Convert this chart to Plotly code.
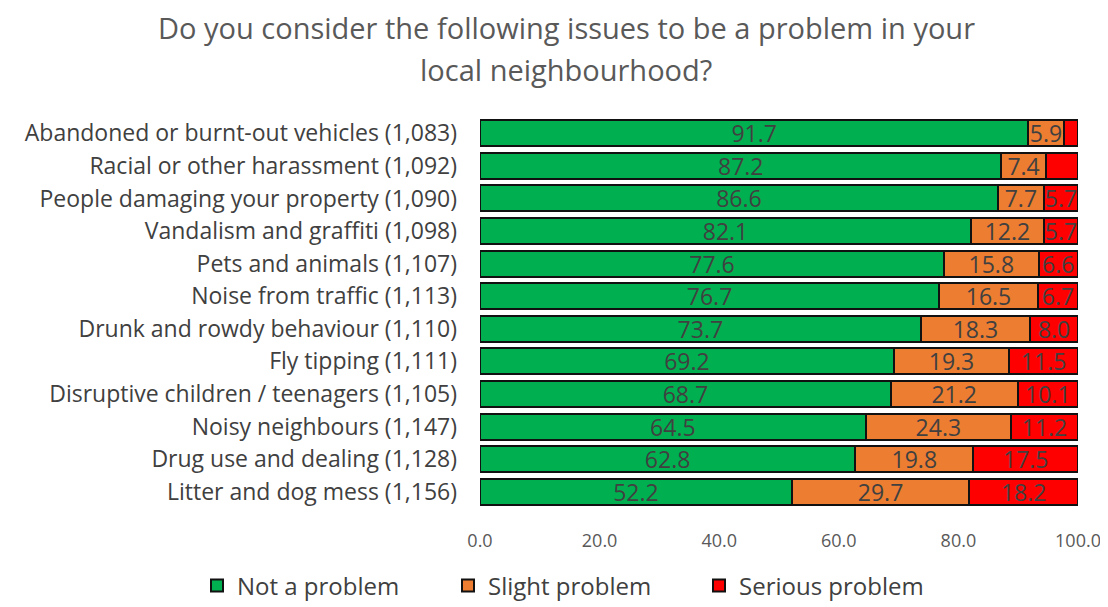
import plotly.graph_objects as go

categories = [
    "Abandoned or burnt-out vehicles (1,083)",
    "Racial or other harassment (1,092)",
    "People damaging your property (1,090)",
    "Vandalism and graffiti (1,098)",
    "Pets and animals (1,107)",
    "Noise from traffic (1,113)",
    "Drunk and rowdy behaviour (1,110)",
    "Fly tipping (1,111)",
    "Disruptive children / teenagers (1,105)",
    "Noisy neighbours (1,147)",
    "Drug use and dealing (1,128)",
    "Litter and dog mess (1,156)",
]
not_a_problem = [91.7, 87.2, 86.6, 82.1, 77.6, 76.7, 73.7, 69.2, 68.7, 64.5, 62.8, 52.2]
slight_problem = [5.9, 7.4, 7.7, 12.2, 15.8, 16.5, 18.3, 19.3, 21.2, 24.3, 19.8, 29.7]
serious_problem = [2.4, 5.4, 5.7, 5.7, 6.6, 6.7, 8.0, 11.5, 10.1, 11.2, 17.5, 18.2]
# labels hidden in the original for the smallest segments
serious_labels = ["", "", "5.7", "5.7", "6.6", "6.7", "8.0", "11.5", "10.1", "11.2", "17.5", "18.2"]
tick_vals = [0, 20, 40, 60, 80, 100]
tick_text = ["0.0", "20.0", "40.0", "60.0", "80.0", "100.0"]
title_lines = ["Do you consider the following issues to be a problem in your",
               "local neighbourhood?"]

series = [
    ("Not a problem", not_a_problem, [f"{v:.1f}" for v in not_a_problem], "#00B050"),
    ("Slight problem", slight_problem, [f"{v:.1f}" for v in slight_problem], "#ED7D31"),
    ("Serious problem", serious_problem, serious_labels, "#FF0000"),
]

FONT = "Open Sans, Lato, sans-serif"

fig = go.Figure()
for name, vals, labels, color in series:
    fig.add_trace(go.Bar(
        y=categories, x=vals, name=name, orientation="h",
        text=labels, textposition="inside", insidetextanchor="middle",
        constraintext="none",
        textfont=dict(size=23, color="#404040", family=FONT),
        marker=dict(color=color, line=dict(color="#111111", width=2)),
    ))

# page has an 8px body margin: target page coords -> figure coords by subtracting 8
OFF = 8
W, H = 1108, 607
# plot area in page coords: x 480..1078, y 117..508
L, T = 480 - OFF, 117 - OFF
R = W - (1078 - OFF)
B = H - (508 - OFF)
pw, ph = W - L - R, H - T - B

def px_to_paper_x(px):
    return (px - OFF - L) / pw

def px_to_paper_y(py):
    return (H - B - (py - OFF)) / ph

annotations = []
for line, ypx in zip(title_lines, [28, 69]):
    annotations.append(dict(
        text=line, xref="paper", yref="paper",
        x=px_to_paper_x(566), y=px_to_paper_y(ypx),
        xanchor="center", yanchor="middle", showarrow=False,
        font=dict(size=29, color="#595959", family=FONT),
    ))

fig.update_layout(
    barmode="stack", barnorm="percent", bargap=0.2,
    width=W, height=H,
    paper_bgcolor="white", plot_bgcolor="white",
    font=dict(family=FONT, color="#595959"),
    margin=dict(l=L, r=R, t=T, b=B, autoexpand=False),
    annotations=annotations,
    legend=dict(
        orientation="h",
        x=px_to_paper_x(197), xanchor="left",
        y=px_to_paper_y(586), yanchor="middle",
        entrywidth=206, entrywidthmode="pixels",
        font=dict(size=24, color="#404040", family=FONT), traceorder="normal",
    ),
    showlegend=True,
)
fig.update_xaxes(range=[0, 100], tickvals=tick_vals, ticktext=tick_text,
                 showgrid=False, zeroline=False, showline=False, automargin=False,
                 tickfont=dict(size=18, color="#595959", family=FONT), ticks="",
                 ticklabelstandoff=20)
fig.update_yaxes(autorange="reversed", showgrid=False, showline=False, automargin=False,
                 tickfont=dict(size=23, color="#404040", family=FONT), ticks="",
                 ticklabelstandoff=22)

fig.write_html("out.html")
